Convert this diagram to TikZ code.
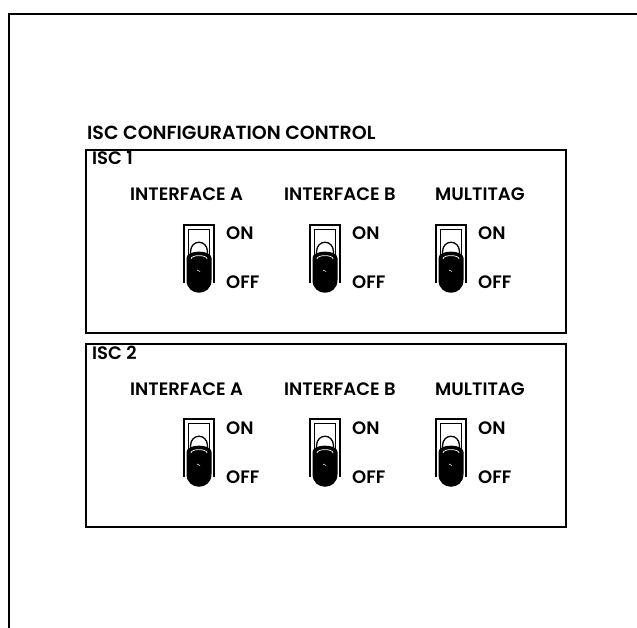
\documentclass[tikz,border=0pt]{standalone}
\usepackage{fontspec}
\setmainfont{Poppins}[UprightFont=* SemiBold]
\begin{document}
\begin{tikzpicture}[x=1pt,y=-1pt,
  lbl/.style={anchor=base west, inner sep=0pt, font=\fontsize{18}{20}\selectfont},
  ttl/.style={anchor=base west, inner sep=0pt, font=\fontsize{19}{21}\selectfont},
  panel/.style={draw, line width=1.8pt},
  frame/.style={line width=2.4pt},
  toggle/.pic={
    % bezel
    \draw[line width=2.6pt] (0,58) -- (0,0) -- (30,0) -- (30,58);
    \draw[line width=1.1pt] (4.5,56) -- (4.5,4.5) -- (25.5,4.5) -- (25.5,56);
    % white lever
    \draw[line width=1.3pt] (6.5,33) -- (6.5,27) .. controls (6.5,14) and (23.5,14) .. (23.5,27) -- (23.5,33);
    % black ball
    \fill[black] (2.5,33) .. controls (2.5,24.5) and (27.5,24.5) .. (27.5,33) -- (27.5,55)
      .. controls (27.5,72) and (2.5,72) .. (2.5,55) -- cycle;
    \draw[white, line width=0.7pt] (7,34) .. controls (7,29.5) and (23,29.5) .. (23,34);
    \draw[white, line width=0.6pt] (13,45) -- (16,46.5);
  }]
\useasboundingbox (0,0) rectangle (637,628);
\draw[frame] (9,628) -- (9,14) -- (637,14);
\node[ttl] (title) at (87,140) {ISC CONFIGURATION CONTROL};
\foreach \n/\dy in {1/0,2/194}{
  \draw[panel] (86,150+\dy) rectangle (566,333+\dy);
  \node[lbl] (isc\n) at (92,165+\dy) {ISC \n};
  \node[lbl] (ifa\n) at (130,201+\dy) {INTERFACE A};
  \node[lbl] (ifb\n) at (284,201+\dy) {INTERFACE B};
  \node[lbl] (mt\n) at (435,201+\dy) {MULTITAG};
  \foreach \k/\sx/\tx in {a/184/226,b/310/352,c/436/478}{
    \pic at (\sx,225+\dy) {toggle};
    \node[lbl] (on\k\n) at (\tx,240+\dy) {ON};
    \node[lbl] (off\k\n) at (\tx,289+\dy) {OFF};
  }
}
\end{tikzpicture}
\end{document}
